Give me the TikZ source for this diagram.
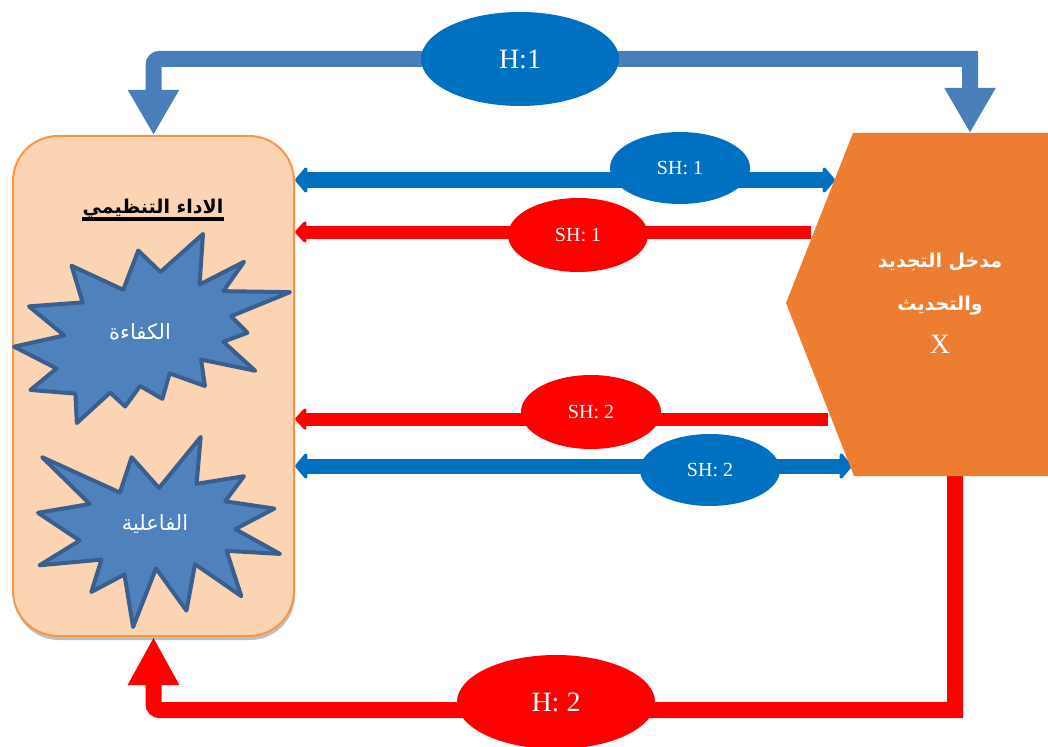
\documentclass[tikz,border=0pt]{standalone}
\usepackage{fontspec}
\setmainfont{Liberation Serif}
\newfontfamily\arabicfont[Script=Arabic]{DejaVu Sans}
\TeXXeTstate=1
\usetikzlibrary{arrows.meta,shadows,calc,shapes.geometric}
\pgfdeclarelayer{bg}
\pgfsetlayers{bg,main}
\definecolor{boxfill}{HTML}{FBD4B4}
\definecolor{boxline}{HTML}{F79646}
\definecolor{burstfill}{HTML}{4F81BD}
\definecolor{burstline}{HTML}{3A5F8F}
\definecolor{pentcol}{HTML}{ED7D31}
\definecolor{toparrcol}{HTML}{4A7EBB}
\definecolor{myblue}{HTML}{0070C0}
\definecolor{myred}{HTML}{FF0000}
\tikzset{
  perfbox/.style={draw=boxline, fill=boxfill, line width=2pt, rounded corners=45pt,
    minimum width=281pt, minimum height=500pt, inner sep=0pt,
    drop shadow={shadow xshift=1pt, shadow yshift=-4pt, opacity=0.25, fill=black}},
  burst/.style={draw=burstline, fill=burstfill, line width=4pt, line join=round},
  bursttext/.style={text=white, inner sep=0pt, font=\arabicfont\fontsize{21}{25}\selectfont},
  lab/.style={ellipse, inner sep=0pt, text=white},
  bigblue/.style={lab, fill=myblue, minimum width=198pt, minimum height=94pt, font=\fontsize{28}{32}\selectfont},
  bigred/.style={lab, fill=myred, minimum width=198pt, minimum height=94pt, font=\fontsize{28}{32}\selectfont},
  smallblue/.style={lab, fill=myblue, minimum width=140pt, minimum height=72pt, font=\fontsize{20}{24}\selectfont},
  smallred/.style={lab, fill=myred, minimum width=140pt, minimum height=74pt, font=\fontsize{20}{24}\selectfont},
  toparr/.style={draw=toparrcol, line width=16pt,
    {Triangle[length=45pt,width=48pt]}-{Triangle[length=45pt,width=48pt]}},
  botarr/.style={draw=myred, line width=16pt,
    -{Triangle[length=48pt,width=48pt]}},
  sharrblue/.style={draw=myblue, line width=15pt,
    {Triangle[length=13pt,width=30pt,round]}-{Triangle[length=13pt,width=30pt,round]}},
  sharrred/.style={draw=myred, line width=13pt,
    -{Triangle[length=12pt,width=25pt,round]}},
}
\begin{document}
\begin{tikzpicture}[x=1pt,y=-1pt]
\useasboundingbox (0,0) rectangle (1048,746);

% left box
\node[perfbox] (lb) at (153.5,386) {};
\node[inner sep=0pt, font=\arabicfont\bfseries\fontsize{19}{23}\selectfont] (ttl) at (153,209) {\beginR الاداء التنظيمي\endR};
\draw[line width=3.5pt] ($(ttl.base west)+(0,5)$) -- ($(ttl.base east)+(0,5)$);

% starburst 1 (explosion 2)
\begin{scope}[shift={(14,234)}, xscale=276/216, yscale=189/216]
\draw[burst] (114.62,43.42) -- (147.90,0) -- (145.25,57.77) -- (180.07,31.72) -- (163.80,65.32) -- (216,66.45) -- (169.85,94.02) -- (182.70,112.90) -- (163.80,123.10) -- (188.77,156.32) -- (146.40,143.50) -- (149.42,173.70) -- (121.80,159.35) -- (116.12,188.42) -- (98.72,173.70) -- (87.00,197.12) -- (75.27,181.25) -- (49.17,216) -- (48.05,182.40) -- (12.85,178.25) -- (33.30,153.70) -- (0,128.77) -- (39.35,115.92) -- (11.72,82.70) -- (53.72,78.17) -- (45.02,36.25) -- (85.50,63.82) -- (97.22,18.87) -- cycle;
\end{scope}
\node[bursttext] (eff) at (140,332) {\beginR الكفاءة\endR};

% starburst 2 (explosion 1)
\begin{scope}[shift={(38,437)}, xscale=242/216, yscale=190/216]
\draw[burst] (108,58) -- (145.22,0) -- (141.55,53.25) -- (183.80,44.57) -- (167.02,73.15) -- (210.97,81.37) -- (176.07,104.75) -- (216,132.90) -- (168.37,129.42) -- (181.45,180.95) -- (140.20,144.57) -- (132.47,197.37) -- (105.32,149.35) -- (84.85,216) -- (77.15,156.27) -- (47.62,176.17) -- (56.67,139.37) -- (1.35,145.87) -- (37.22,117.75) -- (0,86.15) -- (46.27,76.17) -- (3.70,22.95) -- (73.12,63.20) -- (83.52,22.95) -- cycle;
\end{scope}
\node[bursttext] (effc) at (155,524) {\beginR الفاعلية\endR};

% right pentagon
\fill[pentcol] (853,133) -- (1048,133) -- (1048,476) -- (854,476) -- (786,303) -- cycle;
\node[text=white, inner sep=0pt, align=center, font=\fontsize{19}{43}\selectfont] (ptxt) at (940,303)
  {{\arabicfont\bfseries\beginR مدخل التجديد\endR}\\
   {\arabicfont\bfseries\beginR والتحديث\endR}\\
   {\fontsize{28}{43}\selectfont X}};
\coordinate (ptop) at (970,133);
\coordinate (pbot) at (955,476);

% labels
\node[bigblue] (h1) at (520,59) {H:1};
\node[bigred] (h2) at (556,702) {H: 2};
\node[smallblue] (sb1) at (680,168) {SH: 1};
\node[smallred] (sr1) at (578,235) {SH: 1};
\node[smallred] (sr2) at (591,412) {SH: 2};
\node[smallblue] (sb2) at (710,470) {SH: 2};

\coordinate (b1) at (835,180);
\coordinate (r1) at (811,232);
\coordinate (r2) at (828,419);
\coordinate (b2) at (852,466);
\coordinate (bl) at (153.5,710);
\coordinate (tl) at (153.5,59);

\begin{pgfonlayer}{bg}
\draw[toparr] (lb.north) [rounded corners=6pt] -- (tl) [sharp corners] -- (h1.center) -| (ptop);
\draw[botarr] (pbot) -- (pbot |- bl) [rounded corners=6pt] -- (bl) -- (lb.south);
\draw[sharrblue] (lb.east |- b1) -- (b1);
\draw[sharrred] (r1) -- (lb.east |- r1);
\draw[sharrred] (r2) -- (lb.east |- r2);
\draw[sharrblue] (lb.east |- b2) -- (b2);
\end{pgfonlayer}
\end{tikzpicture}
\end{document}
